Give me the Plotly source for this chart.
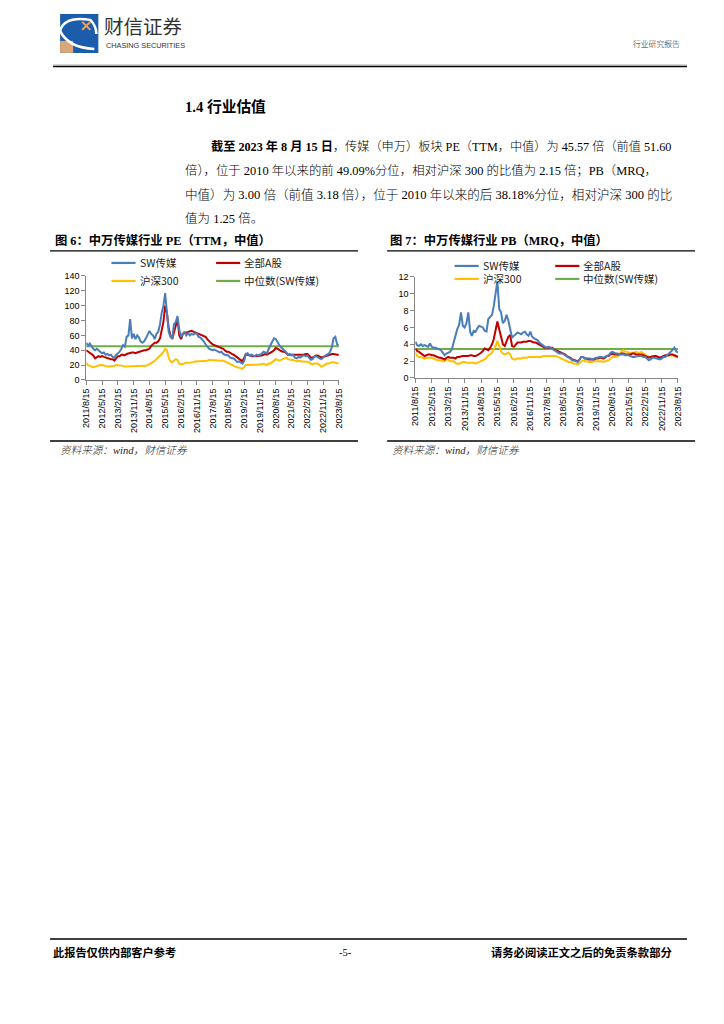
import pandas as pd
import plotly.graph_objects as go

# ---------------- data ----------------
months = pd.date_range("2011-08-15", periods=145, freq=pd.DateOffset(months=1))

tick_dates = ["2011-08-15", "2012-05-15", "2013-02-15", "2013-11-15", "2014-08-15",
              "2015-05-15", "2016-02-15", "2016-11-15", "2017-08-15", "2018-05-15",
              "2019-02-15", "2019-11-15", "2020-08-15", "2021-05-15", "2022-02-15",
              "2022-11-15", "2023-08-15"]
tick_text = ["2011/8/15", "2012/5/15", "2013/2/15", "2013/11/15", "2014/8/15",
             "2015/5/15", "2016/2/15", "2016/11/15", "2017/8/15", "2018/5/15",
             "2019/2/15", "2019/11/15", "2020/8/15", "2021/5/15", "2022/2/15",
             "2022/11/15", "2023/8/15"]

series_names = ["SW传媒", "全部A股", "沪深300", "中位数(SW传媒)"]

pe_sw = [50, 46, 49, 45, 42,
         40, 42, 40, 38, 36, 37, 34, 35, 33, 34, 31, 30,
         34, 36, 38, 42, 47, 45, 58, 60, 82, 56, 62, 55,
         60, 57, 52, 50, 52, 56, 60, 66, 62, 60, 55, 62,
         65, 75, 90, 100, 117, 95, 65, 58, 56, 75, 78, 86,
         68, 58, 62, 65, 60, 63, 60, 62, 61, 63, 62, 58,
         57, 55, 52, 48, 45, 42, 41, 40, 41, 40, 38, 37,
         38, 35, 34, 33, 33, 30, 30, 29, 27, 24, 25, 23,
         22, 26, 35, 36, 33, 34, 33, 32, 34, 33, 34, 35,
         38, 37, 36, 42, 46, 50, 56, 55, 50, 47, 44, 42,
         40, 37, 34, 35, 33, 34, 30, 29, 31, 30, 32, 33,
         32, 33, 30, 27, 28, 31, 32, 30, 29, 28, 30, 33,
         34, 35, 38, 44, 56, 58, 48, 46]
pe_a = [40, 38, 36, 34, 33,
        29, 31, 32, 31, 32, 31, 30, 30, 29, 28, 28, 26,
        29, 32, 32, 34, 34, 33, 35, 36, 36, 37, 37, 36,
        37, 38, 38, 39, 40, 40, 41, 42, 46, 48, 50, 50,
        52, 56, 65, 78, 100, 90, 70, 60, 55, 65, 75, 82,
        60, 55, 62, 63, 64, 64, 65, 66, 65, 64, 63, 62,
        62, 61, 60, 58, 55, 52, 50, 48, 47, 46, 45, 44,
        43, 42, 40, 38, 38, 36, 35, 34, 32, 30, 28, 26,
        25, 30, 35, 34, 33, 33, 32, 32, 32, 32, 32, 33,
        34, 35, 34, 35, 37, 38, 40, 43, 42, 40, 39, 38,
        38, 36, 34, 34, 34, 34, 33, 33, 33, 34, 34, 34,
        35, 35, 33, 30, 30, 32, 33, 33, 31, 30, 31, 32,
        33, 33, 34, 35, 35, 34, 34, 34]
pe_hs = [23, 20, 19, 18, 17,
         18, 19, 19, 20, 20, 19, 18, 18, 18, 18, 18, 19,
         20, 20, 19, 19, 19, 18, 18, 18, 19, 19, 19, 18,
         18, 18, 18, 18, 18, 19, 20, 21, 22, 24, 26, 28,
         30, 32, 35, 38, 42, 40, 30, 25, 24, 26, 28, 27,
         22, 21, 22, 22, 23, 23, 23, 24, 24, 25, 25, 25,
         25, 26, 26, 26, 26, 27, 27, 27, 27, 27, 27, 27,
         27, 26, 25, 24, 22, 21, 20, 19, 18, 17, 17, 16,
         15, 18, 20, 20, 20, 20, 20, 20, 20, 20, 21, 21,
         22, 21, 20, 22, 22, 24, 26, 28, 27, 26, 27, 28,
         30, 30, 28, 27, 27, 27, 26, 25, 26, 25, 25, 25,
         25, 24, 24, 22, 21, 22, 22, 22, 20, 18, 19, 21,
         22, 22, 23, 24, 24, 23, 22, 22]
pe_median = 45.5

pb_sw = [4.3, 3.9, 3.8, 4.0, 3.8,
         3.9, 3.8, 3.7, 4.1, 3.7, 3.6, 3.6, 3.5, 3.4, 3.3, 3.0, 2.7,
         2.9, 3.0, 3.1, 3.4, 4.2, 4.8, 5.8, 6.3, 7.8, 6.2, 6.0, 6.5,
         7.8, 5.5, 5.0, 5.6, 5.5, 5.9, 6.2, 6.1, 6.0, 5.6, 5.5, 7.0,
         7.2, 7.5, 8.5, 10.0, 11.5, 8.2, 7.8, 6.5, 6.8, 7.5, 6.8, 5.8,
         4.8, 5.0, 5.2, 5.4, 5.3, 5.2, 5.4, 5.5, 5.2, 5.0, 5.5, 4.9,
         4.7, 4.6, 4.5, 4.2, 4.0, 3.8, 3.7, 3.6, 3.7, 3.6, 3.5, 3.3,
         3.2, 3.0, 2.9, 2.9, 2.9, 2.7, 2.6, 2.5, 2.3, 2.1, 2.0, 2.0,
         1.9, 2.2, 2.5, 2.5, 2.3, 2.3, 2.3, 2.3, 2.2, 2.3, 2.4, 2.4,
         2.5, 2.5, 2.4, 2.5, 2.6, 2.7, 3.0, 3.1, 3.0, 2.9, 2.9, 2.8,
         2.8, 2.8, 2.7, 2.7, 2.7, 2.6, 2.5, 2.5, 2.6, 2.6, 2.6, 2.6,
         2.5, 2.5, 2.3, 2.1, 2.2, 2.4, 2.4, 2.3, 2.2, 2.2, 2.3, 2.5,
         2.5, 2.7, 2.9, 3.0, 3.3, 3.6, 3.2, 3.0]
pb_a = [3.5, 3.2, 3.1, 2.9, 2.8,
        2.6, 2.7, 2.8, 2.8, 2.7, 2.7, 2.6, 2.5, 2.4, 2.4, 2.3, 2.2,
        2.4, 2.5, 2.4, 2.4, 2.4, 2.3, 2.5, 2.5, 2.6, 2.6, 2.6, 2.6,
        2.6, 2.7, 2.7, 2.6, 2.6, 2.7, 2.8, 3.0, 3.2, 3.5, 3.4, 3.3,
        3.6, 4.0, 4.6, 5.5, 6.7, 5.8, 4.8, 4.0, 3.8, 4.4, 4.9, 5.1,
        3.8, 3.7, 4.0, 4.2, 4.2, 4.2, 4.3, 4.3, 4.3, 4.4, 4.4, 4.3,
        4.2, 4.2, 4.1, 4.0, 3.8, 3.7, 3.6, 3.6, 3.6, 3.6, 3.6, 3.4,
        3.3, 3.2, 3.1, 3.0, 2.9, 2.8, 2.6, 2.5, 2.4, 2.2, 2.1, 2.1,
        2.0, 2.2, 2.5, 2.5, 2.3, 2.3, 2.2, 2.2, 2.2, 2.2, 2.3, 2.3,
        2.4, 2.4, 2.3, 2.4, 2.6, 2.6, 2.8, 2.9, 2.8, 2.8, 2.8, 2.8,
        2.9, 2.9, 2.8, 2.8, 2.8, 2.8, 2.9, 2.9, 2.8, 2.8, 2.8, 2.8,
        2.7, 2.6, 2.5, 2.4, 2.5, 2.6, 2.6, 2.6, 2.5, 2.4, 2.5, 2.6,
        2.7, 2.7, 2.7, 2.8, 2.8, 2.7, 2.6, 2.5]
pb_hs = [3.0, 2.6, 2.5, 2.5, 2.4,
         2.3, 2.4, 2.4, 2.4, 2.4, 2.3, 2.2, 2.1, 2.1, 2.1, 2.0, 2.0,
         2.2, 2.2, 2.0, 2.0, 2.0, 1.8, 1.7, 1.7, 1.8, 1.9, 1.9, 1.8,
         1.8, 1.8, 1.8, 1.8, 1.7, 1.8, 1.9, 2.0, 2.1, 2.2, 2.4, 2.7,
         2.8, 3.0, 3.4, 3.8, 4.4, 3.8, 3.2, 2.9, 2.8, 2.9, 3.0, 2.8,
         2.3, 2.2, 2.2, 2.3, 2.3, 2.3, 2.4, 2.4, 2.4, 2.5, 2.5, 2.5,
         2.5, 2.5, 2.5, 2.5, 2.5, 2.6, 2.6, 2.6, 2.6, 2.6, 2.6, 2.6,
         2.6, 2.5, 2.4, 2.3, 2.2, 2.1, 2.0, 1.9, 1.9, 1.8, 1.7, 1.7,
         1.6, 1.8, 2.0, 2.1, 2.0, 2.0, 1.9, 1.9, 1.9, 2.0, 2.0, 2.0,
         2.0, 2.0, 1.9, 2.0, 2.0, 2.1, 2.3, 2.5, 2.5, 2.5, 2.6, 2.8,
         3.2, 3.3, 3.1, 3.1, 3.0, 3.0, 3.0, 3.0, 3.1, 3.0, 3.0, 3.1,
         2.9, 2.8, 2.6, 2.5, 2.5, 2.6, 2.6, 2.6, 2.4, 2.3, 2.4, 2.6,
         2.6, 2.6, 2.7, 2.7, 2.7, 2.6, 2.5, 2.4]
pb_median = 3.45

# ---------------- styling ----------------
W, H = 724, 1024
colors = ["#4A7EBB", "#C00000", "#FFC000", "#70AD47"]
CJK = "Noto Sans CJK SC"
SERIF = "Liberation Serif, Noto Sans CJK SC"
TICKF = "Liberation Sans, Arial"
SX, SY = 0.98, 0.99   # compensation for the slight shrink seen in the render


def px(x):
    return (362 + (x - 362) / SX) / W


def py(y):
    return 1 - (512 + (y - 512) / SY) / H


fig = go.Figure()

charts = [
    dict(xa="x", ya="y", vals=[pe_sw, pe_a, pe_hs], med=pe_median),
    dict(xa="x2", ya="y2", vals=[pb_sw, pb_a, pb_hs], med=pb_median),
]
for c in charts:
    fig.add_trace(go.Scatter(x=[months[0], months[-1]], y=[c["med"], c["med"]],
                             mode="lines", line=dict(color=colors[3], width=2),
                             xaxis=c["xa"], yaxis=c["ya"], name=series_names[3],
                             showlegend=False))
    for i in [2, 1, 0]:
        fig.add_trace(go.Scatter(x=months, y=c["vals"][i], mode="lines",
                                 line=dict(color=colors[i], width=2),
                                 xaxis=c["xa"], yaxis=c["ya"], name=series_names[i],
                                 showlegend=False))

axis_common = dict(showgrid=False, zeroline=False, showline=True, linecolor="#868686",
                   linewidth=1, ticks="outside", ticklen=4, tickcolor="#868686",
                   tickfont=dict(family=TICKF, size=9, color="#000"))

fig.update_layout(
    width=W, height=H, autosize=False,
    margin=dict(l=0, r=0, t=0, b=0, pad=0),
    paper_bgcolor="white", plot_bgcolor="white",
    showlegend=False,
    xaxis=dict(domain=[px(88), px(339)], type="date",
               range=[months[0], months[-1]], tickmode="array",
               tickvals=tick_dates, ticktext=tick_text, tickangle=-90,
               anchor="y", **axis_common),
    yaxis=dict(domain=[py(380), py(276)], range=[0, 140], dtick=20,
               anchor="x", **axis_common),
    xaxis2=dict(domain=[px(415), px(676)], type="date",
                range=[months[0], months[-1]], tickmode="array",
                tickvals=tick_dates, ticktext=tick_text, tickangle=-90,
                anchor="y2", **axis_common),
    yaxis2=dict(domain=[py(378), py(277)], range=[0, 12], dtick=2,
                anchor="x2", **axis_common),
)

shapes = []
annotations = []


def line(x0, y0, x1, y1, color="#000", width=1):
    shapes.append(dict(type="line", xref="paper", yref="paper",
                       x0=px(x0), y0=py(y0), x1=px(x1), y1=py(y1),
                       line=dict(color=color, width=width)))


def text(x, y, s, size=10, family=CJK, color="#000", anchor="left", weight=None):
    f = dict(size=size, family=family, color=color)
    if weight:
        f["weight"] = weight
    annotations.append(dict(x=px(x), y=py(y), xref="paper", yref="paper",
                            text=s, showarrow=False, xanchor=anchor, yanchor="middle",
                            font=f))


# ---- legends (manual, 2x2) ----
def legend(xl, xr, y1, y2):
    items = [(xl, y1, 0), (xr, y1, 1), (xl, y2, 2), (xr, y2, 3)]
    for (x, y, i) in items:
        line(x, y, x + 24, y, color=colors[i], width=2.2)
        text(x + 26, y, series_names[i], size=10.5, color="#222")


legend(113, 217, 263, 281)
legend(454, 554, 266, 279)

# ---- header ----
shapes.append(dict(type="rect", xref="paper", yref="paper",
                   x0=px(62), y0=py(53), x1=px(100), y1=py(14),
                   fillcolor="#1B5DAA", line=dict(width=0)))
shapes.append(dict(type="rect", xref="paper", yref="paper",
                   x0=px(62), y0=py(53), x1=px(75), y1=py(41),
                   fillcolor="#D9A77A", line=dict(width=0)))
shapes.append(dict(type="path", xref="paper", yref="paper",
                   path=(f"M {px(62)},{py(31)} Q {px(66)},{py(16)} {px(92)},{py(20)} "
                         f"Q {px(98)},{py(26)} {px(98)},{py(34)}"),
                   line=dict(color="white", width=2.5)))
shapes.append(dict(type="path", xref="paper", yref="paper",
                   path=(f"M {px(62)},{py(31)} Q {px(70)},{py(48)} {px(96)},{py(49)}"),
                   line=dict(color="white", width=2.5)))
line(84, 22, 92, 30, color="#F0A35E", width=2)
line(92, 22, 84, 30, color="#F0A35E", width=2)

text(104, 26, "财信证券", size=19.5, color="#333")
text(106, 46, "CHASING SECURITIES", size=7.3, family="Liberation Sans, Arial", color="#333")
text(680, 44, "行业研究报告", size=7.8, color="#222", anchor="right", weight=300)
line(55, 65, 685, 65, color="#BBBBBB", width=1)
line(55, 66.5, 685, 66.5, color="#000", width=1.5)

# ---- section heading and paragraph ----
text(184, 107, "<b>1.4 行业估值</b>", size=14.7, family=SERIF)
text(210, 147, "<b>截至 2023 年 8 月 15 日</b>，传媒（申万）板块 PE（TTM，中值）为 45.57 倍（前值 51.60",
     size=12.2, family=SERIF, weight=300)
text(184, 171, "倍），位于 2010 年以来的前 49.09%分位，相对沪深 300 的比值为 2.15 倍；PB（MRQ，",
     size=12.4, family=SERIF, weight=300)
text(184, 195, "中值）为 3.00 倍（前值 3.18 倍），位于 2010 年以来的后 38.18%分位，相对沪深 300 的比",
     size=12.55, family=SERIF, weight=300)
text(184, 219, "值为 1.25 倍。", size=12.5, family=SERIF, weight=300)

# ---- figure titles and rules ----
text(55, 241, "<b>图 6：中万传媒行业 PE（TTM，中值）</b>", size=12.3, family=SERIF)
text(388, 241, "<b>图 7：中万传媒行业 PB（MRQ，中值）</b>", size=12.3, family=SERIF)
line(52, 251, 358, 251, width=1.3)
line(387, 251, 693, 251, width=1.3)
line(52, 441, 358, 441, width=1.3)
line(387, 441, 693, 441, width=1.3)
text(60, 451, "<i>资料来源：wind，财信证券</i>", size=10.6, family=SERIF, color="#222", weight=300)
text(390, 451, "<i>资料来源：wind，财信证券</i>", size=10.6, family=SERIF, color="#222", weight=300)

# ---- footer ----
line(52, 939, 685, 939, color="#000", width=1.5)
text(53, 952, "<b>此报告仅供内部客户参考</b>", size=11.2, family=SERIF)
text(346, 952, "-5-", size=10.5, family=SERIF, anchor="center")
text(672, 952, "<b>请务必阅读正文之后的免责条款部分</b>", size=11.3, family=SERIF, anchor="right")

fig.update_layout(shapes=shapes, annotations=annotations)
fig.write_html(
    "out.html",
    config={"displayModeBar": False},
    post_script=("document.documentElement.style.margin='0';"
                 "document.documentElement.style.overflow='hidden';"
                 "document.body.style.margin='0';document.body.style.padding='0';"
                 "document.body.style.overflow='hidden';"
                 "document.body.style.height='1024px';"),
)
